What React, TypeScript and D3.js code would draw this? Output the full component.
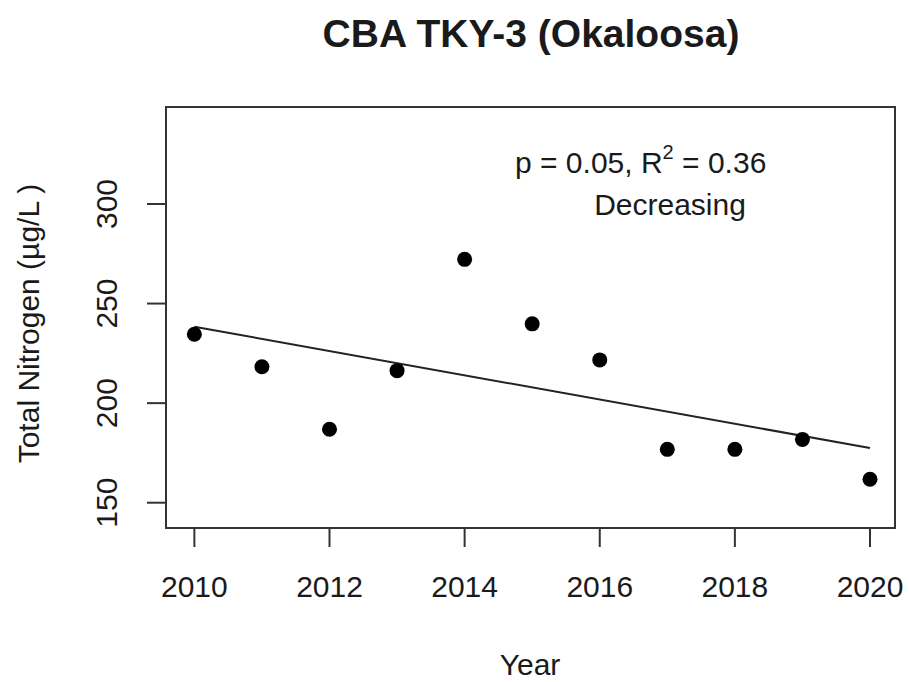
import * as d3 from "d3";
import React from "react";

// values
const years = [2010, 2011, 2012, 2013, 2014, 2015, 2016, 2017, 2018, 2019, 2020];
const nitrogen = [234.6, 218.3, 186.9, 216.3, 272.2, 239.8, 221.7, 176.8, 176.8, 181.8, 161.8];
const xTicks = [2010, 2012, 2014, 2016, 2018, 2020];
const yTicks = [150, 200, 250, 300];

const width = 909;
const height = 682;
const box = { left: 166, right: 895, top: 107, bottom: 528 };
const font = "'Liberation Sans', Arial, Helvetica, sans-serif";
const ink = "#1a1a1a";

// least squares fit for the trend line
function fit(xs: number[], ys: number[]) {
  const mx = d3.mean(xs)!;
  const my = d3.mean(ys)!;
  let sxy = 0;
  let sxx = 0;
  xs.forEach((x, i) => {
    sxy += (x - mx) * (ys[i] - my);
    sxx += (x - mx) * (x - mx);
  });
  const b = sxy / sxx;
  return (x: number) => my + b * (x - mx);
}

export default function App() {
  const x = d3.scaleLinear().domain([2009.58, 2020.37]).range([box.left, box.right]);
  const y = d3.scaleLinear().domain([137.3, 348.7]).range([box.bottom, box.top]);

  const trend = fit(years, nitrogen);
  const lineGen = d3
    .line<number>()
    .x((d) => x(d))
    .y((d) => y(trend(d)));

  return (
    <div style={{ position: "absolute", left: 0, top: 0 }}>
      <svg width={width} height={height} style={{ display: "block", background: "#fff" }} fontFamily={font}>
        <text x={531} y={47} textAnchor="middle" fontSize={39} fontWeight="bold" fill={ink}>
          CBA TKY-3 (Okaloosa)
        </text>

        <rect
          x={box.left}
          y={box.top}
          width={box.right - box.left}
          height={box.bottom - box.top}
          fill="none"
          stroke="#333"
          strokeWidth={2}
        />

        {/* x axis */}
        {xTicks.map((t) => (
          <g key={t}>
            <line x1={x(t)} x2={x(t)} y1={box.bottom} y2={box.bottom + 19} stroke="#333" strokeWidth={2} />
            <text x={x(t)} y={597} textAnchor="middle" fontSize={30} fill={ink}>
              {t}
            </text>
          </g>
        ))}
        <text x={530} y={675} textAnchor="middle" fontSize={30} fill={ink}>
          Year
        </text>

        {/* y axis */}
        {yTicks.map((t) => (
          <g key={t}>
            <line x1={box.left - 19} x2={box.left} y1={y(t)} y2={y(t)} stroke="#333" strokeWidth={2} />
            <text
              transform={`translate(117,${y(t)}) rotate(-90)`}
              textAnchor="middle"
              fontSize={30}
              fill={ink}
            >
              {t}
            </text>
          </g>
        ))}
        <text
          transform={`translate(39,${(box.top + box.bottom) / 2 + 6}) rotate(-90)`}
          textAnchor="middle"
          fontSize={30}
          fill={ink}
        >
          Total Nitrogen (µg/L )
        </text>

        {/* trend line and points */}
        <path d={lineGen([years[0], years[years.length - 1]]) ?? ""} fill="none" stroke="#222" strokeWidth={2} />
        {years.map((yr, i) => (
          <circle key={yr} cx={x(yr)} cy={y(nitrogen[i])} r={7.5} fill="#000" />
        ))}

        {/* annotation */}
        <text x={515} y={173} fontSize={30} fill={ink}>
          p = 0.05, R
          <tspan fontSize={20} dy={-14}>2</tspan>
          <tspan dy={14}> = 0.36</tspan>
        </text>
        <text x={670} y={215} textAnchor="middle" fontSize={30} fill={ink}>
          Decreasing
        </text>
      </svg>
    </div>
  );
}
